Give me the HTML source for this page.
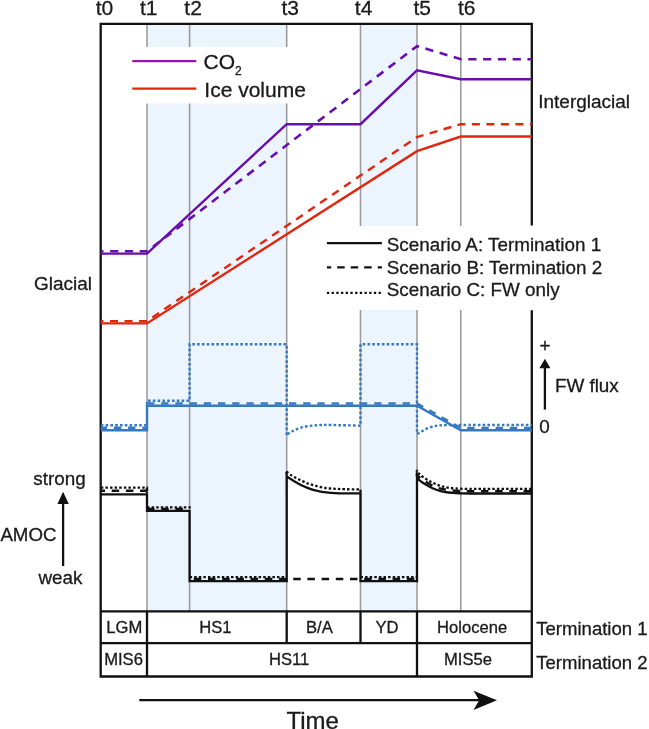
<!DOCTYPE html>
<html><head><meta charset="utf-8"><title>Termination scenarios</title>
<style>
html,body{margin:0;padding:0;background:#fff;}
svg{display:block;}
text{font-family:"Liberation Sans",sans-serif;fill:#1a1a1a;stroke:#1a1a1a;stroke-width:0.3px;}
.m{font-size:18.85px;}
.tb{font-size:16.6px;}
.l1{font-size:21px;}
.g{stroke:#9a9a9a;stroke-width:1.55;fill:none;}
.k{stroke:#111;stroke-width:2.3;fill:none;}
.p{stroke:#6a0dad;stroke-width:2.4;fill:none;}
.r{stroke:#e0260f;stroke-width:2.4;fill:none;}
.b{stroke:#3579c1;stroke-width:2.4;fill:none;}
.da{stroke-dasharray:8.2 6.6;stroke-dashoffset:5.5;stroke-width:2.6;}
.db{stroke-dasharray:7.3 6.9;}
.dk{stroke-dasharray:7.5 6.7;stroke-width:2.4;}
.do{stroke-dasharray:2.6 2.2;}
</style></head>
<body>
<svg width="649" height="729" viewBox="0 0 649 729">
<rect x="0" y="0" width="649" height="729" fill="#fff"/>
<!-- shaded intervals -->
<rect x="147.0" y="24" width="139.7" height="587" fill="#ecf4fd"/>
<rect x="360.5" y="24" width="56.5" height="587" fill="#ecf4fd"/>
<!-- vertical guide lines -->
<path class="g" d="M147.0 24V611M189.6 24V611M286.7 24V611M360.5 24V611M417.0 24V611M460.8 24V611"/>
<!-- frame -->
<path class="k" d="M100.7 22.75V677.65M99.55 23.9H532.95M531.8 22.75V225.5M531.8 310.2V677.65M99.55 676.5H532.95"/>
<path class="k" stroke-width="2.05" d="M100 611.45H532"/>
<path class="k" stroke-width="2.05" d="M100 643.2H532"/>
<path class="k" stroke-width="1.2" d="M147.0 611V676M286.7 611V643M360.5 611V643M417.0 611V676"/>
<!-- legend 1 white box -->
<rect x="128" y="47" width="185" height="56.5" fill="#fff"/>
<!-- CO2 -->
<path class="p" d="M100.8 253.6H147.0L286.7 124.2H360.5L417.0 70.3L460.8 79.3H531.9"/>
<path class="p da" d="M100.8 251.3H147.0L417.0 46.1L460.8 59.2H531.9"/>
<!-- Ice volume -->
<path class="r" d="M100.8 323.4H147.0L417.0 151.2L460.8 136.5H531.9"/>
<path class="r" stroke-width="2.6" stroke-dasharray="8 6.5" stroke-dashoffset="5.3" d="M100.8 321.1H147.0L417.0 137L460.8 124.2H531.9"/>
<!-- FW flux -->
<path class="b do" d="M100.8 425.2H147.0M147.0 404.6V400.8H189.6V344.3H286.7V435.6C286.9 435.4 287.3 434.7 287.8 434.2C288.3 433.7 288.6 433.4 289.6 432.8C290.6 432.2 292.5 431.2 293.9 430.5C295.3 429.8 296.6 429.2 298.1 428.6C299.6 428.1 301.2 427.6 302.7 427.2C304.2 426.8 305.7 426.6 307.3 426.3C308.9 426.0 310.8 425.8 312.4 425.6C314.0 425.4 315.5 425.4 317.0 425.3C318.5 425.2 320.1 425.1 321.6 425.0C323.1 424.9 323.1 424.9 326.2 424.9C329.3 424.9 334.3 425.1 340.0 425.2C345.7 425.3 357.1 425.6 360.5 425.7V344.3H417.0V433.8C417.4 433.7 418.3 433.5 419.2 433.0C420.1 432.5 421.3 431.7 422.5 431.0C423.7 430.3 425.1 429.4 426.6 428.7C428.1 428.0 429.8 427.5 431.3 427.0C432.9 426.5 434.4 426.2 435.9 425.9C437.4 425.6 439.0 425.5 440.5 425.4C442.0 425.3 443.2 425.2 445.1 425.1C447.0 425.0 447.9 425.0 452.0 425.0C456.1 425.0 467.0 425.0 470.0 425.0H531.9"/>
<path class="b db" stroke-dashoffset="1.1" d="M100.8 427.8H147.0"/>
<path class="b db" stroke-dashoffset="0" d="M147.0 403.5H417.0L460.8 428H531.9"/>
<path class="b" d="M100.8 430.3H147.0V405.8H417.0L460.8 430.3H531.9"/>
<!-- AMOC -->
<path class="k" stroke-width="2.4" stroke-dasharray="2.5 2.1" d="M100.8 487.6H147.0V493.3M147.0 507.3H189.6V509.8M189.6 577.1H286.7M286.7 474.2V470.5C286.9 470.9 287.1 472.1 287.7 472.8C288.2 473.5 288.9 473.9 290.0 474.6C291.1 475.3 292.9 476.3 294.3 477.1C295.7 477.9 297.0 478.6 298.5 479.3C300.0 480.0 301.6 480.7 303.1 481.4C304.6 482.1 306.1 482.8 307.5 483.4C308.9 483.9 310.2 484.3 311.6 484.7C313.1 485.1 314.7 485.6 316.2 486.0C317.7 486.4 319.2 486.8 320.8 487.1C322.4 487.4 324.0 487.8 325.5 488.0C327.0 488.2 328.3 488.4 330.0 488.5C331.7 488.6 333.0 488.7 335.5 488.8C338.0 488.9 340.8 489.1 345.0 489.2C349.2 489.3 357.9 489.4 360.5 489.4V492.2M360.5 577.1H417.0M417.0 476.2V470C417.2 470.4 417.5 471.8 418.1 472.7C418.7 473.6 419.8 474.4 420.8 475.2C421.8 476.0 422.7 476.8 423.9 477.6C425.1 478.5 426.8 479.5 428.1 480.3C429.5 481.1 430.6 481.7 432.0 482.4C433.4 483.1 434.7 483.7 436.2 484.3C437.7 484.9 439.3 485.6 440.8 486.1C442.3 486.6 443.5 486.8 445.0 487.1C446.5 487.4 448.3 487.7 450.0 487.9C451.7 488.1 453.3 488.3 455.0 488.4C456.7 488.5 457.5 488.6 460.0 488.7C462.5 488.8 468.3 488.9 470.0 488.9H531.9"/>
<path class="k dk" stroke-dashoffset="3.3" d="M100.8 490.7H147.0V493.3"/>
<path class="k dk" stroke-dashoffset="0" d="M147.0 509H189.6"/>
<path class="k dk" stroke-dashoffset="10" d="M189.6 579H417.0"/>
<path class="k dk" stroke-dashoffset="0" d="M417.0 476.2V474C417.2 474.3 417.4 475.2 418.1 476.0C418.9 476.8 420.3 478.0 421.5 478.9C422.7 479.8 423.5 480.4 425.4 481.6C427.3 482.8 430.5 484.7 433.1 485.9C435.7 487.1 438.2 488.0 440.8 488.7C443.4 489.4 445.9 489.8 448.5 490.1C451.1 490.5 453.9 490.6 456.2 490.8C458.4 491.0 459.7 491.0 462.0 491.1C464.3 491.2 468.7 491.2 470.0 491.2H531.9"/>
<path class="k" d="M100.8 494.4H147.0V510.9H189.6V581.2H286.7V475.3C286.9 475.6 287.0 476.4 287.7 477.0C288.4 477.6 289.7 478.4 291.0 479.2C292.3 480.0 293.4 480.8 295.4 481.9C297.4 483.0 300.5 484.8 303.1 486.0C305.7 487.2 308.2 488.2 310.8 489.1C313.4 490.0 315.9 490.6 318.5 491.2C321.1 491.8 323.4 492.1 326.2 492.4C329.0 492.7 332.4 493.0 335.5 493.2C338.6 493.4 343.4 493.4 345.0 493.4H360.5V581.2H417.0V477.3C417.2 477.6 417.4 478.2 418.1 479.0C418.9 479.8 420.3 480.9 421.5 481.8C422.7 482.7 423.5 483.2 425.4 484.3C427.3 485.4 430.5 487.4 433.1 488.5C435.7 489.6 438.2 490.5 440.8 491.2C443.4 491.9 445.9 492.2 448.5 492.5C451.1 492.8 453.9 493.0 456.2 493.1C458.4 493.2 459.7 493.3 462.0 493.4C464.3 493.5 468.7 493.5 470.0 493.5H531.9"/>
<!-- legend 2 white box -->
<rect x="318" y="226" width="290" height="84" fill="#fff"/>
<path class="k" stroke-width="2" d="M326.9 243.1H381.9"/>
<path class="k" stroke-width="2" stroke-dasharray="7.5 6" stroke-dashoffset="3.2" d="M326.9 267.4H381.9"/>
<path class="k" stroke-width="2" stroke-dasharray="2.3 2.4" d="M326.9 292.8H381.9"/>
<!-- labels -->
<g class="m">
<g font-size="21px"><text x="95.7" y="15.3">t0</text><text x="139.9" y="15.3">t1</text><text x="184.3" y="15.3">t2</text>
<text x="281.5" y="15.3">t3</text><text x="354.8" y="15.3">t4</text><text x="413.5" y="15.3">t5</text><text x="457.9" y="15.3">t6</text></g>
<text x="538.2" y="108.3" font-size="19px">Interglacial</text>
<text x="33.9" y="290.1" font-size="19px">Glacial</text>
<text x="386.8" y="251.3">Scenario A: Termination 1</text>
<text x="386.8" y="273.5">Scenario B: Termination 2</text>
<text x="386.8" y="295.7">Scenario C: FW only</text>
<text x="539.5" y="351.5">+</text>
<text x="554.9" y="392.2">FW flux</text>
<text x="539.3" y="433.4">0</text>
<text x="33.3" y="485.1">strong</text>
<text x="0.4" y="540.6" font-size="18.7px">AMOC</text>
<text x="38.5" y="583.6">weak</text>
<text x="536.3" y="634.6" font-size="18.55px">Termination 1</text>
<text x="536.3" y="668.5" font-size="18.55px">Termination 2</text>
</g>
<g class="l1">
<text x="203.5" y="68.6">CO<tspan font-size="12px" dy="6.5">2</tspan></text>
<text x="204.3" y="96.5">Ice volume</text>
</g>
<path class="p" style="stroke:#9a14b4" d="M132.3 61.1H196.3"/>
<path class="r" d="M132.3 88.6H196.3"/>
<g class="tb">
<text x="106.3" y="633">LGM</text><text x="104.2" y="664.8">MIS6</text>
<text x="199.2" y="633">HS1</text><text x="306" y="633">B/A</text><text x="375.5" y="633">YD</text>
<text x="437" y="633">Holocene</text><text x="269" y="664.8">HS11</text><text x="444" y="664.8">MIS5e</text>
</g>
<text x="286.4" y="729.3" font-size="24px">Time</text>
<!-- arrows -->
<path class="k" d="M63.1 566V500"/><path d="M63.1 491.8L68.8 504H57.4Z" fill="#111"/>
<path class="k" d="M544.9 409.6V366"/><path d="M544.9 358.8L550.4 368.3H539.4Z" fill="#111"/>
<path class="k" d="M139.3 700.2H482"/><path d="M497 700.2L473.5 690.7L479.2 700.2L473.5 709.9Z" fill="#111"/>
</svg>
</body></html>
